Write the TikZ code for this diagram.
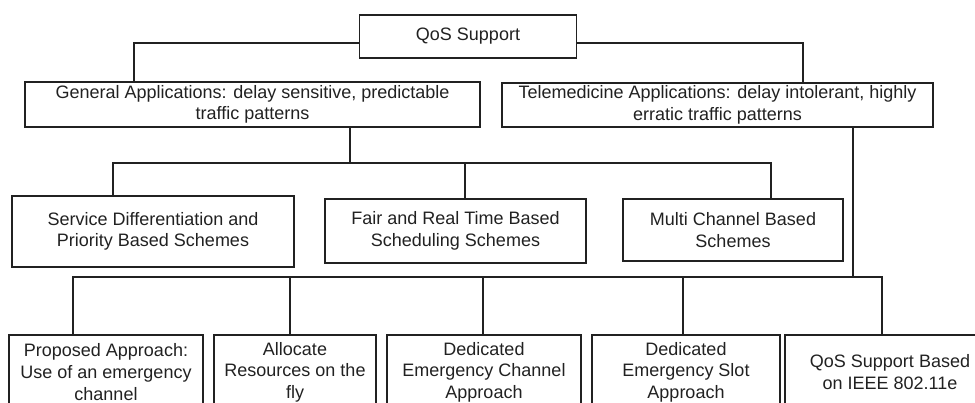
\documentclass[tikz,border=0pt]{standalone}
\usepackage{fontspec}
\setmainfont{Liberation Sans}
\usepackage{tikz}
\definecolor{ink}{rgb}{0.13,0.13,0.13}

\begin{document}
\begin{tikzpicture}[x=1pt, y=-1pt, line width=1.4pt, color=ink,
    box/.style={draw, inner sep=0pt, align=center, font=\fontsize{18}{21.6}\selectfont}]
    \useasboundingbox (0,0) rectangle (975,403);

    % Racine
    \node[box, minimum width=217pt, minimum height=43pt] (qos) at (468,36.5) {QoS Support};

    % Deux familles d'applications
    \node[box, minimum width=455pt, minimum height=45pt] (gen) at (252.5,104.5)
        {General Applications: delay sensitive, predictable\\traffic patterns};
    \node[box, minimum width=431pt, minimum height=44pt] (tel) at (717.5,105)
        {Telemedicine Applications: delay intolerant, highly\\erratic traffic patterns};

    % Schemas pour les applications generales
    \node[box, minimum width=282pt, minimum height=71pt] (serv) at (153,231.5)
        {Service Differentiation and\\Priority Based Schemes};
    \node[box, minimum width=261pt, minimum height=64pt] (fair) at (455.5,231)
        {Fair and Real Time Based\\Scheduling Schemes};
    \node[box, minimum width=220pt, minimum height=62pt] (multi) at (733,230)
        {Multi Channel Based\\Schemes};

    % Approches pour la telemedecine
    \node[box, minimum width=194pt, minimum height=74pt] (prop) at (106,372)
        {Proposed Approach:\\Use of an emergency\\channel};
    \node[box, minimum width=162pt, minimum height=74pt] (alloc) at (295,372)
        {Allocate\\Resources on the\\fly};
    \node[box, minimum width=194pt, minimum height=74pt] (dchan) at (484,372)
        {Dedicated\\Emergency Channel\\Approach};
    \node[box, minimum width=188pt, minimum height=74pt] (dslot) at (686,372)
        {Dedicated\\Emergency Slot\\Approach};
    \node[box, minimum width=210pt, minimum height=74pt] (edca) at (890,372)
        {QoS Support Based\\on IEEE 802.11e};

    % Liaisons racine
    \draw ([yshift=-6.5pt]qos.west) -| ([xshift=-118.5pt]gen.north);
    \draw ([yshift=-6.5pt]qos.east) -| ([xshift=85.5pt]tel.north);

    % Bus sous General Applications
    \coordinate (genbus) at (350,163);
    \draw ([xshift=97.5pt]gen.south) -- (genbus);
    \foreach \n/\s in {serv/-40, fair/9.5, multi/38}
        \draw (genbus) -| ([xshift=\s pt]\n.north);

    % Bus sous Telemedicine Applications
    \coordinate (telbus) at (853,277);
    \draw ([xshift=135.5pt]tel.south) -- (telbus);
    \foreach \n/\s in {prop/-33, alloc/-5, dchan/-1, dslot/-3, edca/-8}
        \draw (telbus) -| ([xshift=\s pt]\n.north);
\end{tikzpicture}
\end{document}
